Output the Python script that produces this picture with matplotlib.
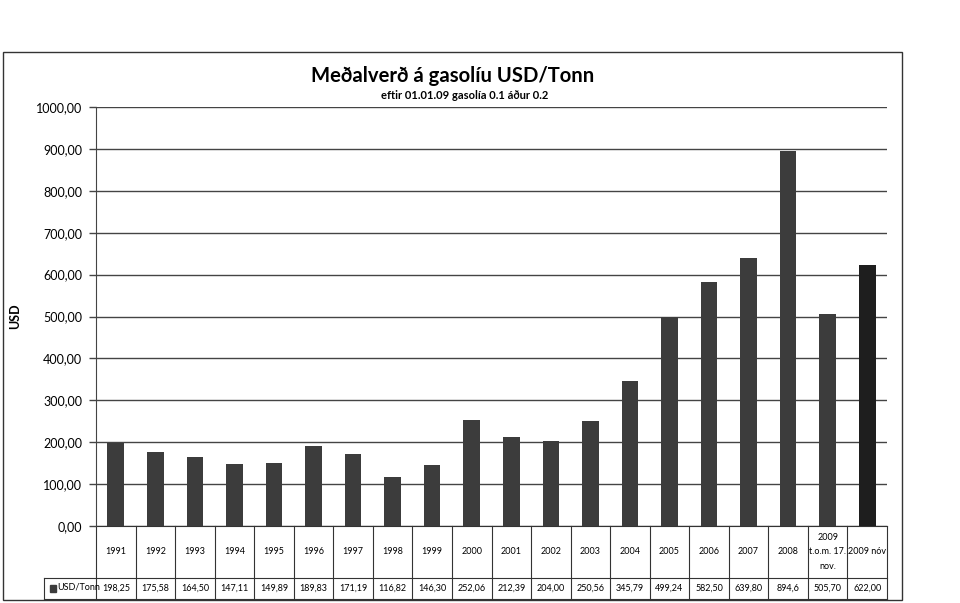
import matplotlib.pyplot as plt
import matplotlib.transforms as mtransforms
from matplotlib.patches import Rectangle

flokkar = ['1991', '1992', '1993', '1994', '1995', '1996', '1997', '1998', '1999', '2000',
           '2001', '2002', '2003', '2004', '2005', '2006', '2007', '2008',
           '2009\nt.o.m. 17.\nnov.', '2009 nóv']
verd = [198.25, 175.58, 164.50, 147.11, 149.89, 189.83, 171.19, 116.82, 146.30, 252.06,
        212.39, 204.00, 250.56, 345.79, 499.24, 582.50, 639.80, 894.6, 505.70, 622.00]
verd_texti = ['198,25', '175,58', '164,50', '147,11', '149,89', '189,83', '171,19', '116,82',
              '146,30', '252,06', '212,39', '204,00', '250,56', '345,79', '499,24', '582,50',
              '639,80', '894,6', '505,70', '622,00']
yticks = [0, 100, 200, 300, 400, 500, 600, 700, 800, 900, 1000]

plt.rcParams['font.family'] = ['Lato', 'DejaVu Sans']

fig = plt.figure(figsize=(9.6, 6.03), dpi=100)
ax = fig.add_axes([96/960, 77/603, 791/960, 419/603])

litir = ['#3c3c3c'] * (len(verd) - 1) + ['#1e1e1e']
x = list(range(len(verd)))
ax.bar(x, verd, width=0.42, color=litir, zorder=3)

ax.set_xlim(-0.5, len(verd) - 0.5)
ax.set_ylim(0, 1000)
ax.set_yticks(yticks)
ax.set_yticklabels([f'{v:.2f}'.replace('.', ',') for v in yticks], fontsize=9)
ax.yaxis.grid(True, color='#444444', linewidth=1.0, zorder=0)
ax.tick_params(axis='y', length=5, width=1, color='#444444', pad=5)
ax.set_xticks([])
for s in ['top', 'right', 'bottom']:
    ax.spines[s].set_visible(False)
ax.spines['left'].set_color('#444444')
ax.set_ylabel('USD', fontsize=9, fontweight='bold', labelpad=0)
ax.yaxis.set_label_coords(-0.095, 0.5)

# gagnatafla undir myndinni
trans = mtransforms.blended_transform_factory(ax.transData, ax.transAxes)
r1 = -52/419
r2 = -73/419
lc = dict(color='#333333', linewidth=0.8, clip_on=False)
for i in range(len(verd) + 1):
    ax.plot([i - 0.5, i - 0.5], [0, r2], transform=trans, **lc)
ax.plot([-0.5, len(verd) - 0.5], [0, 0], transform=trans, **lc)
ax.plot([-0.5 - 52/791*20, len(verd) - 0.5], [r1, r1], transform=trans, **lc)
ax.plot([-0.5 - 52/791*20, len(verd) - 0.5], [r2, r2], transform=trans, **lc)
ax.plot([-0.5 - 52/791*20] * 2, [r1, r2], transform=trans, **lc)
for i, (f, t) in enumerate(zip(flokkar, verd_texti)):
    ax.text(i, r1 / 2, f, transform=trans, ha='center', va='center', fontsize=6.5,
            linespacing=1.8)
    ax.text(i, (r1 + r2) / 2, t, transform=trans, ha='center', va='center', fontsize=6.5)
ax.add_patch(Rectangle((-0.5 - 46/791*20, (r1 + r2) / 2 - 0.008), 0.16, 0.016,
                       transform=trans, color='#3c3c3c', clip_on=False))
ax.text(-0.5 - 39/791*20, (r1 + r2) / 2 + 0.003, 'USD/Tonn', transform=trans,
        ha='left', va='center', fontsize=6.5)

# rammi
fig.patches.append(Rectangle((3/960, 3/603), 899/960, 548/603, transform=fig.transFigure,
                             fill=False, edgecolor='#333333', linewidth=1.0))

fig.text(453/960, 1 - 76/603, 'Meðalverð á gasolíu USD/Tonn', ha='center', va='center',
         fontsize=14.6, fontweight='bold')
fig.text(465/960, 1 - 96/603, 'eftir 01.01.09 gasolía 0.1 áður 0.2', ha='center', va='center',
         fontsize=8, fontweight='bold')

fig.savefig('out.png', dpi=100)
